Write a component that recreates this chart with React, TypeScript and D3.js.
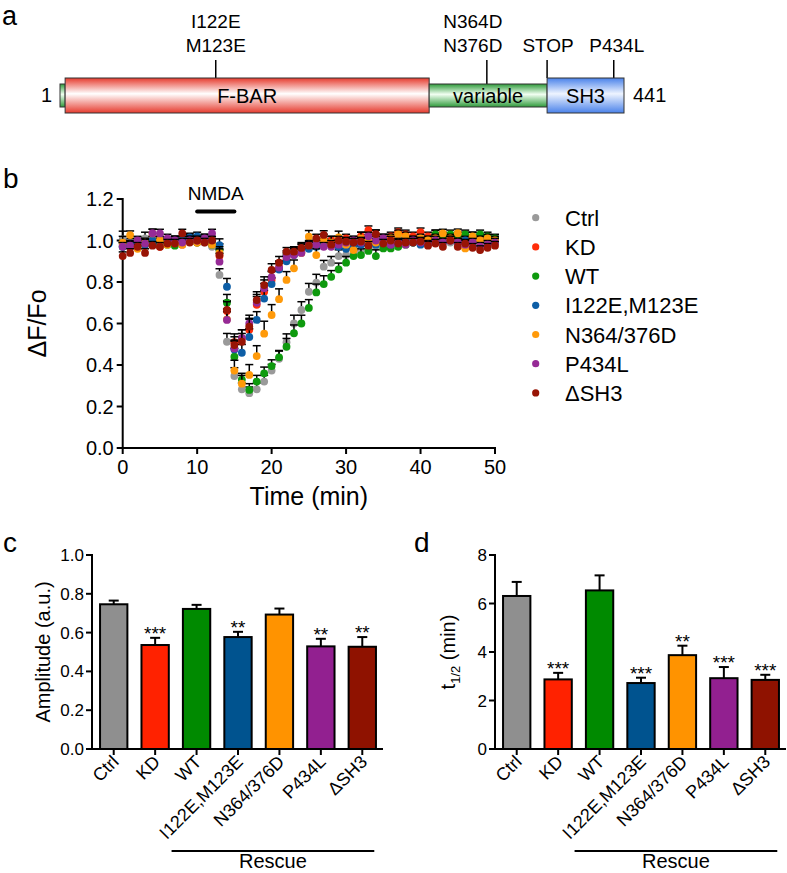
import React from "react";
import * as d3 from "d3";

const FONT = "'Liberation Sans', Arial, Helvetica, sans-serif";

// ---------- Panel a data ----------
const domainNames = ["", "F-BAR", "variable", "SH3"];
const domainStart = [1, 5, 289, 381];
const domainEnd = [5, 289, 381, 441];
const domainColors = ["#2e9a3a", "#e63b2e", "#2e9a3a", "#4a82ea"];
const domainLight = ["#f0fff0", "#ffffff", "#f2fff2", "#eef4ff"];
const domainTall = [false, true, false, true];
const markPos = [122.5, 334, 381, 433];
const markLabels = [["I122E", "M123E"], ["N364D", "N376D"], ["STOP"], ["P434L"]];
const markLabelShift = [0, -14, 1, 3];

// ---------- Panel b data ----------
const times = [0,1,2,3,4,5,6,7,8,9,10,11,12,13,14,15,16,17,18,19,20,21,22,23,24,25,26,27,28,29,30,31,32,33,34,35,36,37,38,39,40,41,42,43,44,45,46,47,48,49,50];
const seriesNames = ["Ctrl", "KD", "WT", "I122E,M123E", "N364/376D", "P434L", "ΔSH3"];
const dotColors = ["#9a9a9a", "#ff2d0a", "#0e9a0e", "#0d5ea6", "#ff9a0a", "#962a96", "#981405"];
const barColors = ["#8f8f8f", "#ff2200", "#008a00", "#00538f", "#ff9300", "#922090", "#8f1200"];

const ctrlMean = [1.005,0.99,0.98,1.01,0.99,0.98,0.99,1.0,0.99,1.0,1.0,0.99,0.97, 0.834,0.512,0.347,0.283,0.264,0.283,0.32,0.373,0.43,0.51,0.60,0.665,0.753, 0.797,0.874,0.893,0.925,0.93,0.94,0.945,0.96,0.97,0.975,0.98,0.985,0.99, 0.99,1.0,0.99,1.0,1.0,0.99,1.0,1.0,0.99,1.0,1.0,0.99];
const ctrlErr = [0.04,0.02,0.02,0.03,0.02,0.02,0.02,0.02,0.02,0.02,0.02,0.02,0.02, 0.03,0.04,0.04,0.03,0.03,0.03,0.03,0.03,0.04,0.04,0.04,0.04,0.04, 0.04,0.03,0.03,0.03,0.03,0.03,0.03,0.03,0.02,0.02,0.02,0.02,0.02, 0.02,0.02,0.02,0.02,0.02,0.02,0.02,0.02,0.02,0.02,0.02,0.02];
const kdMean = [0.98,0.97,0.99,0.98,1.0,0.97,0.99,1.0,0.98,1.0,0.99,1.0,0.99, 0.925,0.66,0.51,0.53,0.57,0.69,0.753,0.81,0.87,0.91,0.94,0.96,0.97, 0.98,0.99,1.0,0.99,1.01,1.0,1.02,1.05,1.03,1.01,1.02,1.04,1.03, 1.02,1.04,1.02,1.03,1.01,1.0,1.01,1.02,1.0,1.01,1.0,1.0];
const kdErr = [0.02,0.02,0.02,0.02,0.02,0.02,0.02,0.02,0.02,0.02,0.02,0.02,0.02, 0.03,0.05,0.04,0.04,0.05,0.04,0.04,0.04,0.03,0.03,0.03,0.03,0.02, 0.02,0.02,0.02,0.02,0.02,0.02,0.02,0.02,0.02,0.02,0.02,0.02,0.02, 0.02,0.02,0.02,0.02,0.02,0.02,0.02,0.02,0.02,0.02,0.02,0.02];
const wtMean = [0.97,0.98,0.97,0.99,0.98,0.99,0.98,0.975,0.99,1.01,0.99,1.0,0.98, 0.954,0.70,0.44,0.33,0.28,0.32,0.36,0.395,0.437,0.488,0.553,0.60,0.675, 0.75,0.79,0.825,0.861,0.893,0.925,0.93,0.95,0.925,0.962,0.962,0.97,0.98, 0.99,0.99,1.0,1.03,1.02,1.03,1.02,1.03,1.02,1.03,1.02,1.01];
const wtErr = [0.02,0.02,0.02,0.02,0.02,0.02,0.02,0.02,0.02,0.02,0.02,0.02,0.02, 0.03,0.04,0.04,0.03,0.03,0.03,0.03,0.03,0.03,0.04,0.04,0.04,0.04, 0.04,0.04,0.03,0.03,0.03,0.03,0.03,0.03,0.03,0.02,0.02,0.02,0.02, 0.02,0.02,0.02,0.02,0.02,0.02,0.02,0.02,0.02,0.02,0.02,0.02];
const blueMean = [0.97,0.98,0.99,0.98,1.0,0.99,0.99,1.0,1.0,1.015,1.02,1.01,0.99, 0.978,0.777,0.475,0.459,0.535,0.617,0.72,0.79,0.86,0.90,0.93,0.95,0.96, 0.97,0.98,0.98,0.97,0.96,0.97,0.98,0.99,0.98,0.99,0.98,0.99,1.0, 0.99,0.98,0.99,1.0,0.99,1.0,0.99,1.0,0.99,1.0,0.99,0.99];
const blueErr = [0.02,0.02,0.02,0.02,0.02,0.02,0.02,0.02,0.02,0.02,0.02,0.02,0.02, 0.03,0.04,0.04,0.04,0.04,0.04,0.04,0.03,0.03,0.03,0.03,0.02,0.02, 0.02,0.02,0.02,0.02,0.02,0.02,0.02,0.02,0.02,0.02,0.02,0.02,0.02, 0.02,0.02,0.02,0.02,0.02,0.02,0.02,0.02,0.02,0.02,0.02,0.02];
const orangeMean = [0.99,1.026,0.96,0.99,1.034,1.0,0.98,0.99,0.98,1.0,0.99,1.0,0.98, 0.94,0.62,0.373,0.31,0.352,0.443,0.551,0.641,0.717,0.81,0.866,0.94,1.018, 0.93,1.0,0.99,1.015,0.98,0.954,1.01,1.0,0.99,1.0,1.01,1.03,1.02, 1.0,1.01,1.0,1.01,1.034,1.01,1.035,0.962,1.02,1.0,1.01,1.0];
const orangeErr = [0.03,0.02,0.02,0.02,0.02,0.02,0.02,0.02,0.02,0.02,0.02,0.02,0.02, 0.03,0.05,0.05,0.04,0.05,0.05,0.06,0.05,0.05,0.04,0.04,0.04,0.03, 0.03,0.03,0.03,0.03,0.03,0.03,0.03,0.03,0.02,0.02,0.02,0.02,0.02, 0.02,0.02,0.02,0.02,0.02,0.02,0.02,0.02,0.02,0.02,0.02,0.02];
const purpleMean = [0.97,0.975,1.0,0.985,1.035,1.034,1.01,1.0,0.99,1.0,1.0,1.01,1.034, 0.898,0.617,0.48,0.53,0.60,0.70,0.77,0.823,0.87,0.92,0.93,0.94,0.98, 0.98,0.97,0.97,0.98,0.99,1.0,0.99,1.02,1.0,1.01,0.98,0.99,0.98, 1.0,0.99,0.98,1.0,0.99,1.0,0.99,0.98,0.99,0.97,0.98,0.99];
const purpleErr = [0.02,0.02,0.02,0.02,0.02,0.02,0.02,0.02,0.02,0.02,0.02,0.02,0.02, 0.04,0.04,0.04,0.04,0.04,0.04,0.04,0.03,0.03,0.03,0.03,0.02,0.02, 0.02,0.02,0.02,0.02,0.02,0.02,0.02,0.02,0.02,0.02,0.02,0.02,0.02, 0.02,0.02,0.02,0.02,0.02,0.02,0.02,0.02,0.02,0.02,0.02,0.02];
const darkRedMean = [0.925,0.94,0.97,0.94,0.975,0.97,0.985,0.985,1.034,0.99,1.0,0.99,1.0, 0.93,0.665,0.496,0.512,0.585,0.713,0.785,0.858,0.893,0.946,0.946,0.964,0.975, 1.01,1.027,0.98,1.0,0.995,0.99,0.995,0.975,1.031,0.985,1.0,0.985,0.99, 0.99,0.995,0.975,0.985,0.97,1.0,0.97,0.985,0.965,0.954,0.965,0.975];
const darkRedErr = [0.02,0.02,0.02,0.02,0.02,0.02,0.02,0.02,0.02,0.02,0.02,0.02,0.02, 0.03,0.04,0.04,0.04,0.04,0.04,0.04,0.03,0.03,0.02,0.02,0.02,0.02, 0.02,0.02,0.02,0.02,0.02,0.02,0.02,0.02,0.02,0.02,0.02,0.02,0.02, 0.02,0.02,0.02,0.02,0.02,0.02,0.02,0.02,0.02,0.02,0.02,0.02];

const seriesMeans = [ctrlMean, kdMean, wtMean, blueMean, orangeMean, purpleMean, darkRedMean];
const seriesErrs = [ctrlErr, kdErr, wtErr, blueErr, orangeErr, purpleErr, darkRedErr];
const ratioTicks = [0, 0.2, 0.4, 0.6, 0.8, 1.0, 1.2];
const timeTicks = [0, 10, 20, 30, 40, 50];
const nmdaWindow = [10, 15];

// ---------- Panels c, d data ----------
const barLabels = ["Ctrl", "KD", "WT", "I122E,M123E", "N364/376D", "P434L", "ΔSH3"];
const amplitudeMean = [0.746, 0.536, 0.722, 0.577, 0.693, 0.529, 0.527];
const amplitudeErr = [0.019, 0.037, 0.021, 0.027, 0.031, 0.039, 0.05];
const amplitudeStars = ["", "***", "", "**", "", "**", "**"];
const amplitudeTicks = [0, 0.2, 0.4, 0.6, 0.8, 1.0];
const halfTimeMean = [6.31, 2.87, 6.54, 2.72, 3.87, 2.92, 2.85];
const halfTimeErr = [0.58, 0.27, 0.62, 0.22, 0.39, 0.46, 0.21];
const halfTimeStars = ["", "***", "", "***", "**", "***", "***"];
const halfTimeTicks = [0, 2, 4, 6, 8];

function PanelA() {
  const x = d3.scaleLinear().domain([1, 441]).range([60, 624]);
  return (
    <g>
      <defs>
        {domainColors.map((c, i) => (
          <linearGradient key={i} id={`dg${i}`} x1="0" y1="0" x2="0" y2="1">
            <stop offset="0" stopColor={c} />
            <stop offset="0.45" stopColor={domainLight[i]} />
            <stop offset="1" stopColor={c} />
          </linearGradient>
        ))}
      </defs>
      <text x={2} y={25} fontSize={27} fontFamily={FONT}>a</text>
      {markPos.map((p, i) => {
        const tall = i !== 1;
        return (
          <line key={i} x1={x(p)} x2={x(p)} y1={60} y2={tall ? 78 : 84} stroke="#000" strokeWidth={1.5} />
        );
      })}
      {markLabels.map((lines, i) =>
        lines.map((t, j) => (
          <text key={`${i}-${j}`} x={x(markPos[i]) + markLabelShift[i]} y={52 - (lines.length - 1 - j) * 24}
            textAnchor="middle" fontSize={19} fontFamily={FONT}>{t}</text>
        ))
      )}
      {domainNames.map((n, i) => {
        const y0 = domainTall[i] ? 78 : 84;
        const y1 = domainTall[i] ? 113 : 107;
        return (
          <g key={i}>
            <rect x={x(domainStart[i])} y={y0} width={x(domainEnd[i]) - x(domainStart[i])} height={y1 - y0}
              fill={`url(#dg${i})`} stroke="#333" strokeWidth={1} />
            {n && (
              <text x={(x(domainStart[i]) + x(domainEnd[i])) / 2} y={(y0 + y1) / 2 + 7} textAnchor="middle"
                fontSize={20} fontFamily={FONT}>{n}</text>
            )}
          </g>
        );
      })}
      <text x={x(1) - 8} y={102} textAnchor="end" fontSize={20} fontFamily={FONT}>1</text>
      <text x={x(441) + 9} y={102} textAnchor="start" fontSize={20} fontFamily={FONT}>441</text>
    </g>
  );
}

function PanelB() {
  const x = d3.scaleLinear().domain([0, 50]).range([122.7, 495]);
  const y = d3.scaleLinear().domain([0, 1.2]).range([448, 199]);
  const r = 3.9;
  return (
    <g fontFamily={FONT}>
      <text x={3} y={188} fontSize={28}>b</text>
      <text x={(x(nmdaWindow[0]) + x(nmdaWindow[1])) / 2} y={200} textAnchor="middle" fontSize={19}>NMDA</text>
      <line x1={x(nmdaWindow[0])} x2={x(nmdaWindow[1])} y1={211.5} y2={211.5} stroke="#000" strokeWidth={4} strokeLinecap="round" />
      {/* axes */}
      <line x1={x(0)} x2={x(0)} y1={y(1.2) - 1} y2={y(0) + 1} stroke="#000" strokeWidth={2} />
      <line x1={x(0) - 1} x2={x(50) + 1} y1={y(0)} y2={y(0)} stroke="#000" strokeWidth={2} />
      {ratioTicks.map((t) => (
        <g key={t}>
          <line x1={x(0) - 6} x2={x(0)} y1={y(t)} y2={y(t)} stroke="#000" strokeWidth={2} />
          <text x={x(0) - 9} y={y(t) + 7} textAnchor="end" fontSize={20}>{t.toFixed(1)}</text>
        </g>
      ))}
      {timeTicks.map((t) => (
        <g key={t}>
          <line x1={x(t)} x2={x(t)} y1={y(0)} y2={y(0) + 6} stroke="#000" strokeWidth={2} />
          <text x={x(t)} y={y(0) + 26} textAnchor="middle" fontSize={20}>{t}</text>
        </g>
      ))}
      <text x={(x(0) + x(50)) / 2} y={505} textAnchor="middle" fontSize={25}>Time (min)</text>
      <text transform={`translate(46,${(y(0) + y(1.2)) / 2}) rotate(-90)`} textAnchor="middle" fontSize={25}>ΔF/Fo</text>
      {/* data */}
      {seriesMeans.map((m, s) => (
        <g key={s}>
          {times.map((t, i) => {
            const cx = x(t);
            const cy = y(m[i]);
            const top = y(m[i] + seriesErrs[s][i]);
            return (
              <g key={i}>
                <line x1={cx} x2={cx} y1={cy} y2={top} stroke="#000" strokeWidth={1.5} />
                <line x1={cx - 4} x2={cx + 4} y1={top} y2={top} stroke="#000" strokeWidth={1.5} />
              </g>
            );
          })}
          {times.map((t, i) => (
            <circle key={`c${i}`} cx={x(t)} cy={y(m[i])} r={r} fill={dotColors[s]} />
          ))}
        </g>
      ))}
      {/* legend */}
      {seriesNames.map((n, i) => (
        <g key={n}>
          <circle cx={535.7} cy={217.7 + i * 29.2} r={3.6} fill={dotColors[i]} />
          <text x={565} y={217.7 + i * 29.2 + 8} fontSize={22}>{n}</text>
        </g>
      ))}
    </g>
  );
}

function BarPanel(props: {
  letter: string; letterX: number; x0: number; x1: number; yMax: number; ticks: number[];
  fmt: (v: number) => string; means: number[]; errs: number[]; stars: string[];
  title: React.ReactNode; titleX: number;
}) {
  const { letter, letterX, x0, x1, yMax, ticks, fmt, means, errs, stars, title, titleX } = props;
  const x = d3.scaleBand().domain(barLabels).range([x0 + 1, x1 + 1]).paddingInner(0.34).paddingOuter(0.17);
  const y = d3.scaleLinear().domain([0, yMax]).range([749, 555]);
  const bw = x.bandwidth();
  const first = x(barLabels[2])! + bw / 2 - 25;
  const last = x(barLabels[6])! + bw / 2 + 12;
  return (
    <g fontFamily={FONT}>
      <text x={letterX} y={552} fontSize={28}>{letter}</text>
      {means.map((m, i) => {
        const bx = x(barLabels[i])!;
        const cx = bx + bw / 2;
        const top = y(m + errs[i]);
        return (
          <g key={i}>
            <line x1={cx} x2={cx} y1={y(m)} y2={top} stroke="#000" strokeWidth={2} />
            <line x1={cx - 5} x2={cx + 5} y1={top} y2={top} stroke="#000" strokeWidth={2} />
            <rect x={bx} y={y(m)} width={bw} height={y(0) - y(m)} fill={barColors[i]} stroke="#000" strokeWidth={2} />
            {stars[i] && (
              <text x={cx} y={top + 2} textAnchor="middle" fontSize={19}>{stars[i]}</text>
            )}
          </g>
        );
      })}
      <line x1={x0} x2={x0} y1={y(yMax) - 1} y2={y(0) + 1} stroke="#000" strokeWidth={2} />
      <line x1={x0 - 1} x2={x1 + 1} y1={y(0)} y2={y(0)} stroke="#000" strokeWidth={2} />
      {ticks.map((t) => (
        <g key={t}>
          <line x1={x0 - 6} x2={x0} y1={y(t)} y2={y(t)} stroke="#000" strokeWidth={2} />
          <text x={x0 - 8} y={y(t) + 6} textAnchor="end" fontSize={17}>{fmt(t)}</text>
        </g>
      ))}
      {barLabels.map((l) => {
        const cx = x(l)! + bw / 2;
        return (
          <g key={l}>
            <line x1={cx} x2={cx} y1={y(0)} y2={y(0) + 6} stroke="#000" strokeWidth={2} />
            <text transform={`translate(${cx + 6},${y(0) + 14}) rotate(-45)`} textAnchor="end" fontSize={18}>{l}</text>
          </g>
        );
      })}
      <line x1={first} x2={last} y1={851} y2={851} stroke="#000" strokeWidth={2} />
      <text x={(first + last) / 2} y={868} textAnchor="middle" fontSize={20}>Rescue</text>
      <g transform={`translate(${titleX},${(y(0) + y(yMax)) / 2}) rotate(-90)`}>{title}</g>
    </g>
  );
}

export default function App() {
  return (
    <svg width={787} height={873} style={{ position: "absolute", left: 0, top: 0, background: "#fff" }}>
      <rect width={787} height={873} fill="#fff" />
      <PanelA />
      <PanelB />
      <BarPanel letter="c" letterX={3} x0={92} x1={382} yMax={1} ticks={amplitudeTicks}
        fmt={(v) => v.toFixed(1)} means={amplitudeMean} errs={amplitudeErr} stars={amplitudeStars}
        titleX={50} title={<text textAnchor="middle" fontSize={20} fontFamily={FONT}>Amplitude (a.u.)</text>} />
      <BarPanel letter="d" letterX={414} x0={495} x1={785} yMax={8} ticks={halfTimeTicks}
        fmt={(v) => String(v)} means={halfTimeMean} errs={halfTimeErr} stars={halfTimeStars}
        titleX={455} title={
          <text textAnchor="middle" fontSize={20} fontFamily={FONT}>
            t<tspan fontSize={13} dy={5}>1/2</tspan><tspan dy={-5}> (min)</tspan>
          </text>
        } />
    </svg>
  );
}
